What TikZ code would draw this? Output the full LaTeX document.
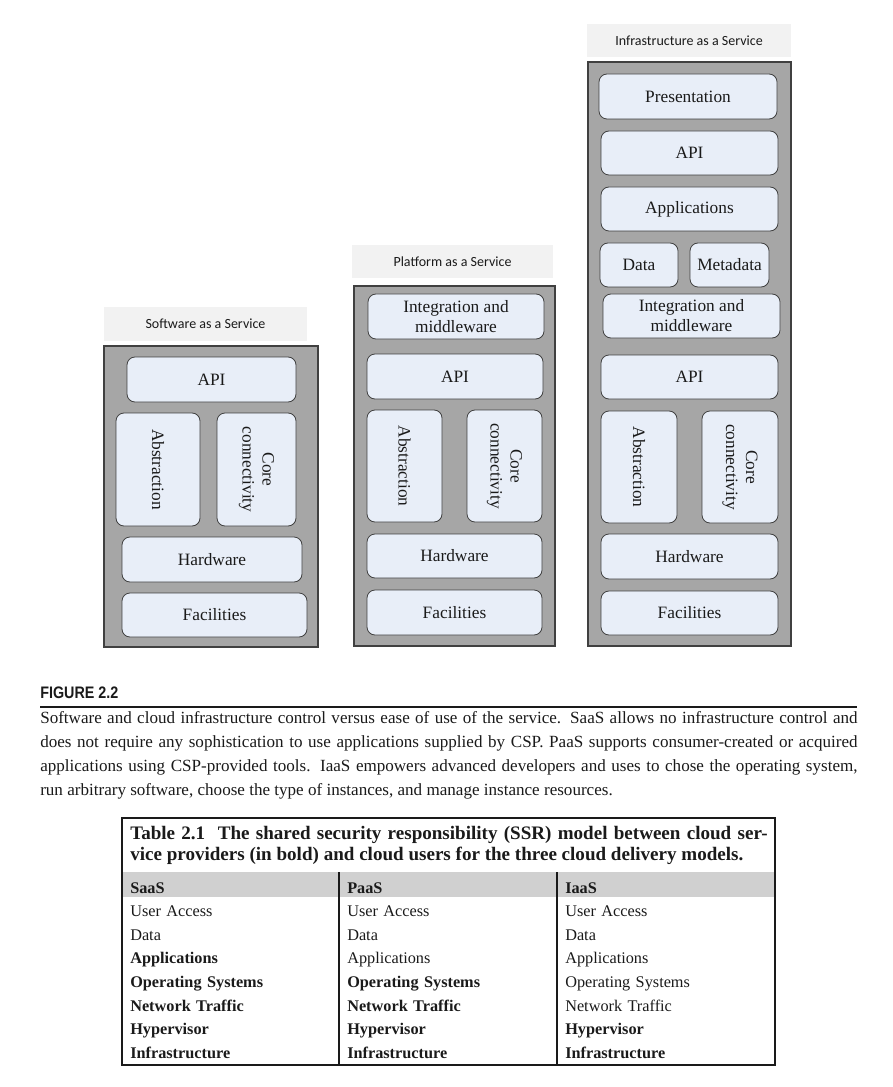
\documentclass[tikz,border=0pt]{standalone}
\usepackage{fontspec}
\setmainfont{Liberation Serif}
\newfontfamily\etiq{Carlito}
\newfontfamily\titfig[FakeStretch=0.86]{Liberation Sans}
\usetikzlibrary{fit}
\definecolor{tinta}{HTML}{1A1A1A}
\definecolor{borde}{HTML}{404040}
\definecolor{grisfondo}{HTML}{A6A6A6}
\definecolor{celeste}{HTML}{E8EEF8}
\definecolor{grisrotulo}{HTML}{F2F2F2}
\definecolor{grisfila}{HTML}{D0D0D0}
\tikzset{
  rotulo/.style={rectangle, fill=grisrotulo, inner sep=0pt},
  rotxt/.style={inner sep=0pt, text=tinta, font=\etiq\fontsize{10.5}{12}\selectfont},
  pila/.style={rectangle, draw=borde, fill=grisfondo, line width=0.8pt, inner sep=0pt},
  capa/.style={rectangle, rounded corners=6pt, draw=borde, fill=celeste, line width=0.6pt, inner sep=0pt},
  txt/.style={align=center, inner sep=0pt, text=tinta, font=\fontsize{13}{15}\selectfont},
  vert/.style={txt, rotate=-90},
  columna/.style={anchor=base west, inner sep=0pt, text width=150pt, align=left, text=tinta,
                  font=\fontsize{12.2}{17.7}\selectfont}
}
\begin{document}
\begin{tikzpicture}[x=0.75pt, y=-0.75pt]
  \useasboundingbox (0,0) rectangle (892,1087);
  % Software as a Service
  \node (s-rot) [rotulo, fit={(104,307) (307,341)}] {};
  \node (s-rot-t) at (s-rot.center) [rotxt] {Software as a Service};
  \node (s-pila) [pila, fit={(104,346) (318,647)}] {};
  \node (s-api) [capa, fit={(127,357) (296,402)}] {};
  \node (s-api-t) at (s-api.center) [txt] {API};
  \node (s-abs) [capa, fit={(116,413) (200,526)}] {};
  \node (s-abs-t) at (s-abs.center) [vert] {Abstraction};
  \node (s-core) [capa, fit={(217,413) (296,526)}] {};
  \node (s-core-t) at (s-core.center) [vert] {Core\\ connectivity};
  \node (s-hw) [capa, fit={(122,537) (302,582)}] {};
  \node (s-hw-t) at (s-hw.center) [txt] {Hardware};
  \node (s-fac) [capa, fit={(122,593) (307,637)}] {};
  \node (s-fac-t) at (s-fac.center) [txt] {Facilities};
  % Platform as a Service
  \node (p-rot) [rotulo, fit={(352,245) (553,278)}] {};
  \node (p-rot-t) at (p-rot.center) [rotxt] {Platform as a Service};
  \node (p-pila) [pila, fit={(354,286) (555,646)}] {};
  \node (p-int) [capa, fit={(368,294) (544,339)}] {};
  \node (p-int-t) at (p-int.center) [txt] {Integration and\\ middleware};
  \node (p-api) [capa, fit={(367,354) (543,399)}] {};
  \node (p-api-t) at (p-api.center) [txt] {API};
  \node (p-abs) [capa, fit={(367,410) (442,522)}] {};
  \node (p-abs-t) at (p-abs.center) [vert] {Abstraction};
  \node (p-core) [capa, fit={(467,410) (542,522)}] {};
  \node (p-core-t) at (p-core.center) [vert] {Core\\ connectivity};
  \node (p-hw) [capa, fit={(367,534) (542,578)}] {};
  \node (p-hw-t) at (p-hw.center) [txt] {Hardware};
  \node (p-fac) [capa, fit={(367,590) (542,635)}] {};
  \node (p-fac-t) at (p-fac.center) [txt] {Facilities};
  % Infrastructure as a Service
  \node (i-rot) [rotulo, fit={(587,24) (791,57)}] {};
  \node (i-rot-t) at (i-rot.center) [rotxt] {Infrastructure as a Service};
  \node (i-pila) [pila, fit={(588,62) (791,646)}] {};
  \node (i-pres) [capa, fit={(599,74) (777,119)}] {};
  \node (i-pres-t) at (i-pres.center) [txt] {Presentation};
  \node (i-api1) [capa, fit={(601,131) (778,175)}] {};
  \node (i-api1-t) at (i-api1.center) [txt] {API};
  \node (i-app) [capa, fit={(601,187) (778,231)}] {};
  \node (i-app-t) at (i-app.center) [txt] {Applications};
  \node (i-data) [capa, fit={(600,243) (678,287)}] {};
  \node (i-data-t) at (i-data.center) [txt] {Data};
  \node (i-meta) [capa, fit={(690,243) (769,287)}] {};
  \node (i-meta-t) at (i-meta.center) [txt] {Metadata};
  \node (i-int) [capa, fit={(603,294) (780,338)}] {};
  \node (i-int-t) at (i-int.center) [txt] {Integration and\\ middleware};
  \node (i-api2) [capa, fit={(601,355) (778,399)}] {};
  \node (i-api2-t) at (i-api2.center) [txt] {API};
  \node (i-abs) [capa, fit={(601,411) (677,523)}] {};
  \node (i-abs-t) at (i-abs.center) [vert] {Abstraction};
  \node (i-core) [capa, fit={(702,411) (778,523)}] {};
  \node (i-core-t) at (i-core.center) [vert] {Core\\ connectivity};
  \node (i-hw) [capa, fit={(601,534) (778,579)}] {};
  \node (i-hw-t) at (i-hw.center) [txt] {Hardware};
  \node (i-fac) [capa, fit={(601,591) (778,635)}] {};
  \node (i-fac-t) at (i-fac.center) [txt] {Facilities};
  % caption
  \node (fig) [anchor=base west, inner sep=0pt, text=tinta,
               font=\titfig\bfseries\fontsize{12.5}{14}\selectfont] at (40,698) {FIGURE 2.2};
  \draw [tinta, line width=0.9pt] (40,707) -- (857,707);
  \node (leyenda) [anchor=base west, inner sep=0pt, text width=613pt, align=justify, text=tinta,
                   font=\fontsize{12.8}{18}\selectfont] at (40,723)
    {Software and cloud infrastructure control versus ease of use of the service. SaaS allows no infrastructure control and\linebreak
     does not require any sophistication to use applications supplied by CSP. PaaS supports consumer-created or acquired\linebreak
     applications using CSP-provided tools. IaaS empowers advanced developers and uses to chose the operating system,\linebreak
     run arbitrary software, choose the type of instances, and manage instance resources.};
  % table
  \fill [grisfila] (122,872) rectangle (776,897);
  \node (tabla) [draw=tinta, line width=1pt, inner sep=0pt, fit={(122,818) (775,1065)}] {};
  \draw [tinta, line width=0.8pt] (339,872) -- (339,1065);
  \draw [tinta, line width=0.8pt] (557,872) -- (557,1065);
  \node (tab-tit) [anchor=base west, inner sep=0pt, text width=478pt, align=justify, text=tinta,
                   font=\bfseries\fontsize{14.3}{16}\selectfont] at (130,839)
    {Table 2.1\ \ The shared security responsibility (SSR) model between cloud ser-\linebreak
     vice providers (in bold) and cloud users for the three cloud delivery models.};
  \node (col-saas) [columna] at (130,893)
    {\textbf{SaaS}\\ User Access\\ Data\\ \textbf{Applications}\\ \textbf{Operating Systems}\\
     \textbf{Network Traffic}\\ \textbf{Hypervisor}\\ \textbf{Infrastructure}};
  \node (col-paas) [columna] at (347,893)
    {\textbf{PaaS}\\ User Access\\ Data\\ Applications\\ \textbf{Operating Systems}\\
     \textbf{Network Traffic}\\ \textbf{Hypervisor}\\ \textbf{Infrastructure}};
  \node (col-iaas) [columna] at (565,893)
    {\textbf{IaaS}\\ User Access\\ Data\\ Applications\\ Operating Systems\\
     Network Traffic\\ \textbf{Hypervisor}\\ \textbf{Infrastructure}};
\end{tikzpicture}
\end{document}
